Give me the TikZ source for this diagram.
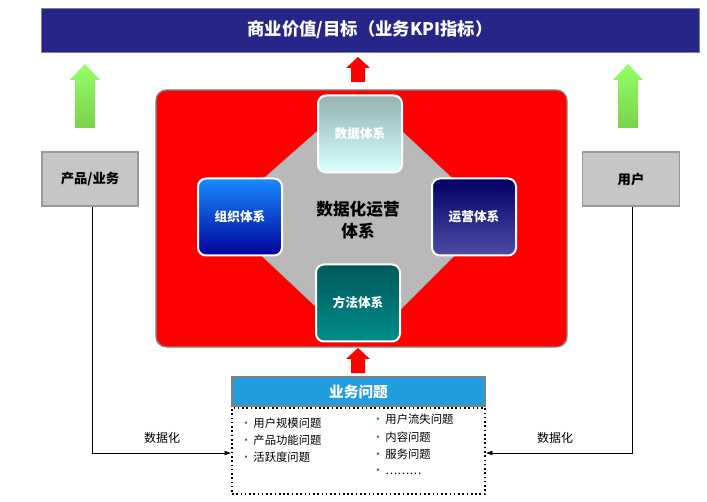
\documentclass[tikz,border=0pt]{standalone}
\usepackage{fontspec}
\setmainfont{Noto Sans CJK SC}
\usetikzlibrary{arrows.meta}
\begin{document}
\begin{tikzpicture}[x=0.75pt,y=-0.75pt,
  sysbox/.style={draw=white,line width=1.5pt,rounded corners=6pt,font=\bfseries\fontsize{9.5}{11}\selectfont,text=white},
  sidebox/.style={draw=gray!80,line width=1pt,fill=gray!45,font=\bfseries\fontsize{10}{12}\selectfont},
  lbl/.style={font=\fontsize{9}{11}\selectfont},
  item/.style={font=\fontsize{8.5}{10}\selectfont,anchor=west,inner sep=0pt}]
\useasboundingbox (0,0) rectangle (707,502);
% top banner
\node[fill=blue!45!black!85!white,draw=gray,minimum width=658*0.75pt,minimum height=44*0.75pt,text=white,font=\bfseries\fontsize{13}{15}\selectfont] (kpi) at (370,30) {商业价值/目标（业务KPI指标）};
% green arrows
\foreach \xx in {85,628}
  \shade[bottom color=green!50!olive!70,top color=green!60!lime!60] (\xx-10,128) -- (\xx-10,80) -- (\xx-15,80) -- (\xx,64) -- (\xx+15,80) -- (\xx+10,80) -- (\xx+10,128) -- cycle;
% red panel
\node[fill=red,draw=gray,line width=1pt,rounded corners=8pt,minimum width=411*0.75pt,minimum height=257*0.75pt] (panel) at (361.5,218.5) {};
\foreach \yy in {57,348}
  \fill[red] (351,\yy+25) -- (351,\yy+11) -- (346,\yy+11) -- (358,\yy) -- (370,\yy+11) -- (365,\yy+11) -- (365,\yy+25) -- cycle;
% octagon
\fill[gray!55,draw=gray!70] (330,120) -- (390,120) -- (470,195) -- (470,240) -- (390,320) -- (330,320) -- (245,240) -- (245,195) -- cycle;
\node[font=\bfseries\fontsize{12.5}{16}\selectfont,align=center] (core) at (358,220) {数据化运营\\体系};
\node[sysbox,top color=gray!60!teal!60,bottom color=cyan!15!white,minimum width=84*0.75pt,minimum height=77*0.75pt] (data) at (360,134) {数据体系};
\node[sysbox,top color=blue!50!cyan!90,bottom color=blue!60!black,minimum width=84*0.75pt,minimum height=77*0.75pt] (org) at (240,217) {组织体系};
\node[sysbox,top color=blue!40!black,bottom color=blue!50!black!70,minimum width=84*0.75pt,minimum height=77*0.75pt] (ops) at (474,217) {运营体系};
\node[sysbox,top color=teal!70!black,bottom color=teal!90!cyan,minimum width=84*0.75pt,minimum height=77*0.75pt] (meth) at (358,303) {方法体系};
% side boxes
\node[sidebox,minimum width=96*0.75pt,minimum height=54*0.75pt] (prod) at (90,179) {产品/业务};
\node[sidebox,minimum width=97*0.75pt,minimum height=54*0.75pt] (user) at (631,179) {用户};
% problems
\node[fill=cyan!80!blue!90,draw=gray,line width=1pt,minimum width=253*0.75pt,minimum height=29*0.75pt,text=white,font=\bfseries\fontsize{11}{13}\selectfont] (prob) at (358.5,391.5) {业务问题};
\node[draw,dotted,line width=1.2pt,minimum width=253*0.75pt,minimum height=86*0.75pt] (list) at (358.5,451) {};
\foreach \t [count=\i] in {用户规模问题,产品功能问题,活跃度问题}
  \node[item] (l\i) at (240,406+17*\i) {\textcolor{teal}{·}\,\t};
\foreach \t [count=\i] in {用户流失问题,内容问题,服务问题,………}
  \node[item] (r\i) at (372,402+17.5*\i) {\textcolor{teal}{·}\,\t};
% connectors
\coordinate (lc) at (92,453);
\coordinate (rc) at (632,453);
\draw[-{Latex[length=5pt]},line width=0.6pt] (prod.south -| lc) -- (lc) -- (list.west |- lc);
\draw[-{Latex[length=5pt]},line width=0.6pt] (user.south -| rc) -- (rc) -- (list.east |- rc);
\node[lbl] (d1) at (162,438) {数据化};
\node[lbl] (d2) at (555,438) {数据化};
\end{tikzpicture}
\end{document}
